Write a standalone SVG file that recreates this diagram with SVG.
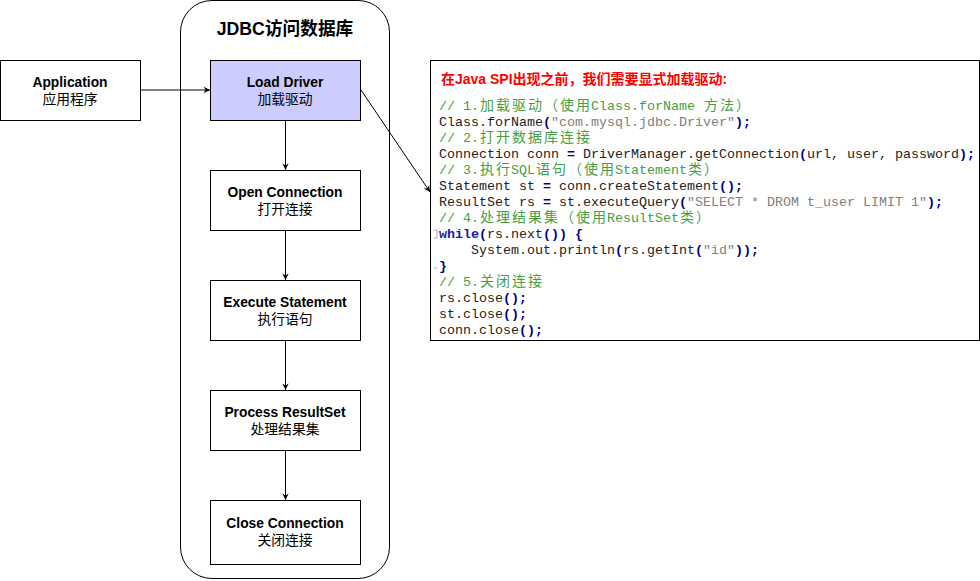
<svg xmlns="http://www.w3.org/2000/svg" width="980" height="581" viewBox="0 0 980 581">
<style>
.box{fill:#ffffff;stroke:#000000;stroke-width:1}
.hl{fill:#ccccff}
.en{font-family:"Liberation Sans","Noto Sans CJK SC",sans-serif;font-size:13.8px;font-weight:bold;fill:#000;text-anchor:middle}
.zh{font-family:"Noto Sans CJK SC","Liberation Sans",sans-serif;font-size:13.8px;fill:#000;text-anchor:middle}
.title{font-family:"Liberation Sans","Noto Sans CJK SC",sans-serif;font-size:17.7px;font-weight:bold;fill:#000;text-anchor:middle}
.conn{fill:none;stroke:#000;stroke-width:1}
.code{font-family:"Liberation Mono","Noto Sans CJK SC",monospace;font-size:13.33px;fill:#222}
.cj{font-family:"Noto Sans CJK SC",sans-serif;font-size:14px}
.cm{fill:#45a045}
.st{fill:#808080}
.op{fill:#000080;font-weight:bold}
.kw{fill:#1a1aaa;font-weight:bold}
.red{font-family:"Liberation Sans","Noto Sans CJK SC",sans-serif;font-size:14px;font-weight:bold;fill:#ff0000}
</style>
<defs>
<marker id="arr" viewBox="0 0 10 10" refX="9" refY="5" markerWidth="8" markerHeight="8" markerUnits="userSpaceOnUse" orient="auto">
<path d="M1,1 L9,5 L1,9 L3.5,5 Z" fill="#000"/>
</marker>
</defs>

<g id="container">
<rect x="180.5" y="0.5" width="209" height="578" rx="31.5" ry="31.5" class="box"/>
<text x="285" y="35" class="title">JDBC访问数据库</text>
</g>

<g id="application">
<rect x="0.5" y="60.5" width="140" height="60" class="box"/>
<text x="70" y="87" class="en">Application</text>
<text x="70" y="104" class="zh">应用程序</text>
</g>

<g id="load-driver">
<rect x="210.5" y="60.5" width="150" height="60" class="box hl"/>
<text x="285" y="87" class="en">Load Driver</text>
<text x="285" y="104" class="zh">加载驱动</text>
</g>

<g id="open-connection">
<rect x="210.5" y="170.5" width="150" height="60" class="box"/>
<text x="285" y="197" class="en">Open Connection</text>
<text x="285" y="214" class="zh">打开连接</text>
</g>

<g id="execute-statement">
<rect x="210.5" y="280.5" width="150" height="60" class="box"/>
<text x="285" y="307" class="en">Execute Statement</text>
<text x="285" y="324" class="zh">执行语句</text>
</g>

<g id="process-resultset">
<rect x="210.5" y="390.5" width="150" height="60" class="box"/>
<text x="285" y="417" class="en">Process ResultSet</text>
<text x="285" y="434" class="zh">处理结果集</text>
</g>

<g id="close-connection">
<rect x="210.5" y="500.5" width="150" height="64" class="box"/>
<text x="285" y="528" class="en">Close Connection</text>
<text x="285" y="545" class="zh">关闭连接</text>
</g>

<g id="code-panel">
<rect x="430.5" y="60.5" width="549" height="280" class="box"/>
<text x="441" y="84" class="red">在Java SPI出现之前，我们需要显式加载驱动:</text>
<path d="M434,230 L437,230 L437,238 L434,238 M434,268 L437,268" stroke="#aaa" fill="none"/>
<text class="code">
<tspan y="110" x="439" class="cm">// 1.</tspan><tspan x="480 496 512 528" class="cm cj">加载驱动</tspan><tspan x="544" class="cm cj">（</tspan><tspan x="560 576" class="cm cj">使用</tspan><tspan x="591" class="cm">Class.forName</tspan><tspan x="704 720" class="cm cj">方法</tspan><tspan x="736" class="cm cj">）</tspan>
</text>
<text class="code" y="126">
<tspan x="439">Class.forName</tspan><tspan x="543" class="op">(</tspan><tspan x="551" class="st">"com.mysql.jdbc.Driver"</tspan><tspan x="735" class="op">)</tspan><tspan x="743" class="op">;</tspan>
</text>
<text class="code" y="142">
<tspan x="439" class="cm">// 2.</tspan><tspan x="480 496 512 528 544 560 576" class="cm cj">打开数据库连接</tspan>
</text>
<text class="code" y="158">
<tspan x="439">Connection conn</tspan><tspan x="567" class="op">=</tspan><tspan x="583">DriverManager.getConnection</tspan><tspan x="799" class="op">(</tspan><tspan x="807">url, user, password</tspan><tspan x="959" class="op">)</tspan><tspan x="967" class="op">;</tspan>
</text>
<text class="code" y="174">
<tspan x="439" class="cm">// 3.</tspan><tspan x="480 496" class="cm cj">执行</tspan><tspan x="511" class="cm">SQL</tspan><tspan x="536 552" class="cm cj">语句</tspan><tspan x="568" class="cm cj">（</tspan><tspan x="584 600" class="cm cj">使用</tspan><tspan x="615" class="cm">Statement</tspan><tspan x="688" class="cm cj">类</tspan><tspan x="704" class="cm cj">）</tspan>
</text>
<text class="code" y="190">
<tspan x="439">Statement st</tspan><tspan x="543" class="op">=</tspan><tspan x="559">conn.createStatement</tspan><tspan x="719" class="op">()</tspan><tspan x="735" class="op">;</tspan>
</text>
<text class="code" y="206">
<tspan x="439">ResultSet rs</tspan><tspan x="543" class="op">=</tspan><tspan x="559">st.executeQuery</tspan><tspan x="679" class="op">(</tspan><tspan x="687" class="st">"SELECT * DROM t_user LIMIT 1"</tspan><tspan x="927" class="op">)</tspan><tspan x="935" class="op">;</tspan>
</text>
<text class="code" y="222">
<tspan x="439" class="cm">// 4.</tspan><tspan x="480 496 512 528 544" class="cm cj">处理结果集</tspan><tspan x="560" class="cm cj">（</tspan><tspan x="576 592" class="cm cj">使用</tspan><tspan x="607" class="cm">ResultSet</tspan><tspan x="680" class="cm cj">类</tspan><tspan x="696" class="cm cj">）</tspan>
</text>
<text class="code" y="238">
<tspan x="439" class="kw">while</tspan><tspan x="479" class="op">(</tspan><tspan x="487">rs.next</tspan><tspan x="543" class="op">())</tspan><tspan x="575" class="op">{</tspan>
</text>
<text class="code" y="254">
<tspan x="471">System.out.println</tspan><tspan x="615" class="op">(</tspan><tspan x="623">rs.getInt</tspan><tspan x="695" class="op">(</tspan><tspan x="703" class="st">"id"</tspan><tspan x="735" class="op">))</tspan><tspan x="751" class="op">;</tspan>
</text>
<text class="code" y="270"><tspan x="439" class="op">}</tspan></text>
<text class="code" y="286">
<tspan x="439" class="cm">// 5.</tspan><tspan x="480 496 512 528" class="cm cj">关闭连接</tspan>
</text>
<text class="code" y="302"><tspan x="439">rs.close</tspan><tspan x="503" class="op">()</tspan><tspan x="519" class="op">;</tspan></text>
<text class="code" y="318"><tspan x="439">st.close</tspan><tspan x="503" class="op">()</tspan><tspan x="519" class="op">;</tspan></text>
<text class="code" y="334"><tspan x="439">conn.close</tspan><tspan x="519" class="op">()</tspan><tspan x="535" class="op">;</tspan></text>
</g>

<g id="connectors">
<line x1="140.5" y1="90" x2="210" y2="90" class="conn" marker-end="url(#arr)"/>
<line x1="285.5" y1="121" x2="285.5" y2="170" class="conn" marker-end="url(#arr)"/>
<line x1="285.5" y1="231" x2="285.5" y2="280" class="conn" marker-end="url(#arr)"/>
<line x1="285.5" y1="341" x2="285.5" y2="390" class="conn" marker-end="url(#arr)"/>
<line x1="285.5" y1="451" x2="285.5" y2="500" class="conn" marker-end="url(#arr)"/>
<line x1="361" y1="90" x2="430" y2="192" class="conn" marker-end="url(#arr)"/>
</g>
</svg>
